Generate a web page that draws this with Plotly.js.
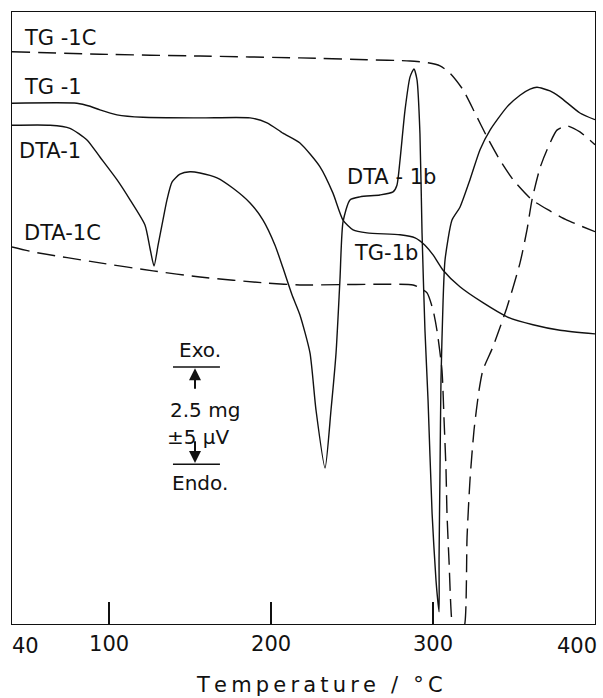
<!DOCTYPE html>
<html>
<head>
<meta charset="utf-8">
<script src="https://cdn.plot.ly/plotly-3.0.1.min.js"></script>
<style>html,body{margin:0;padding:0;background:#fff;}#chart{width:603px;height:698px;}</style>
</head>
<body>
<div id="chart"></div>
<script>
// ---- Data (temperature in °C, signal in arbitrary chart units 0-100) ----
const tg1cT = [40, 94.3, 156.1, 217.8, 259.2, 285.8, 296.9, 304.3, 310.5, 318.5, 325.9, 333.3, 341.3, 349.4, 361.1, 372.2, 382.7, 400];
const tg1cV = [93.5, 93.1, 92.8, 92.5, 92.2, 92.0, 91.7, 91.2, 90.0, 87.3, 83.5, 79.6, 75.8, 72.6, 69.3, 67.5, 66.0, 64.1];

const tg1T = [40, 80.1, 88.2, 94.3, 104.8, 120.9, 156.1, 187.0, 197.5, 207.3, 217.8, 230.2, 238.2, 244.4, 250.6, 259.2, 279.6, 288.9, 295.0, 300.0, 306.2, 316.6, 330.8, 345.7, 361.7, 378.4, 400];
const tg1V = [85.1, 85.1, 84.6, 84.0, 83.2, 82.8, 82.7, 82.7, 81.9, 80.2, 78.6, 74.7, 70.4, 66.0, 64.4, 63.9, 63.6, 63.1, 61.9, 60.3, 57.8, 55.1, 52.5, 50.2, 48.9, 48.0, 47.4];

const dta1T = [40, 63.5, 75.8, 86.3, 94.3, 104.8, 112.9, 122.1, 125.2, 127.7, 130.2, 133.2, 135.7, 138.8, 143.7, 149.9, 156.1, 166.6, 176.5, 187.0, 195.0, 202.4, 207.3, 212.9, 217.8, 224.0, 227.7, 233.3, 237.0, 240.1, 242.5, 244.4, 248.7, 254.9, 267.2, 275.3, 277.7, 279.6, 282.7, 285.8, 288.2, 290.1, 291.9, 293.2, 295.0, 296.9, 299.4, 301.8, 303.7, 303.7, 304.3, 304.9, 306.2, 307.4, 311.7, 316.6, 322.8, 329.0, 335.2, 345.7, 353.7, 359.9, 364.2, 372.2, 378.4, 390.7, 400];
const dta1V = [81.5, 81.5, 81.0, 79.1, 76.3, 72.6, 69.3, 65.2, 61.4, 58.5, 61.9, 66.0, 69.3, 72.2, 73.5, 73.9, 73.7, 72.9, 71.2, 68.8, 66.0, 61.9, 58.2, 53.8, 50.5, 44.3, 35.0, 25.5, 35.0, 44.3, 56.2, 65.7, 69.3, 69.8, 70.1, 70.6, 71.7, 75.8, 84.0, 89.4, 90.7, 88.9, 80.2, 63.9, 48.0, 36.6, 18.1, 7.2, 2.0, 10.5, 25.2, 39.9, 52.9, 59.5, 66.0, 68.1, 72.6, 77.5, 80.7, 84.5, 86.4, 87.4, 87.7, 87.1, 86.1, 83.5, 82.4];

const dta1cT = [40, 53.0, 94.3, 127.1, 156.1, 197.5, 217.8, 287.6, 291.9, 296.3, 300.0, 302.4, 305.5, 306.8, 308.0, 308.6, 309.9, 311.7, 315.4, 319.7, 321.0, 322.8, 325.3, 328.4, 330.8, 337.0, 345.7, 353.7, 358.0, 361.1, 366.0, 370.4, 376.5, 382.7, 390.7, 400];
const dta1cV = [61.6, 60.8, 59.0, 57.7, 56.7, 55.7, 55.4, 55.4, 54.9, 54.1, 51.3, 48.0, 41.5, 33.3, 25.2, 18.1, 10.0, 0.2, -4.2, 0.2, 14.2, 23.5, 31.7, 38.2, 41.5, 45.3, 51.8, 59.0, 64.4, 69.3, 74.5, 77.5, 80.7, 81.4, 80.4, 78.3];

// curve labels
const labelText = ["TG -1C", "TG -1", "DTA-1", "DTA-1C", "DTA - 1b", "TG-1b"];
const labelT = [46.2, 46.2, 43.1, 46.2, 245.6, 250.0];
const labelV = [95.8, 87.7, 77.3, 63.9, 73.0, 60.6];

// scale-bar legend
const scaleText = ["Exo.", "2.5 mg", "±5 μV", "Endo."];
const scaleT = [156.1, 159.2, 154.9, 156.1];
const scaleV = [44.8, 35.0, 30.6, 23.0];

// x axis ticks
const tickVals = [100, 200, 300];
const tickText = ["100", "200", "300"];
const edgeTickVals = [40, 400];
const edgeTickText = ["40", "400"];
const xTitle = "Temperature / °C";

const FONT = "DejaVu Sans, sans-serif";
const solid = {color: "#111", width: 1.4, shape: "spline", smoothing: 0.6};
const dashed = {color: "#111", width: 1.4, shape: "spline", smoothing: 0.6, dash: "18px,8px"};

const traces = [
  {x: tg1cT, y: tg1cV, mode: "lines", line: dashed, name: "TG-1C"},
  {x: tg1T, y: tg1V, mode: "lines", line: solid, name: "TG-1"},
  {x: dta1T, y: dta1V, mode: "lines", line: solid, name: "DTA-1"},
  {x: dta1cT, y: dta1cV, mode: "lines", line: dashed, name: "DTA-1C"}
];

const annotations = [];
labelText.forEach((t, i) => annotations.push({
  x: labelT[i], y: labelV[i], xref: "x", yref: "y", text: t, showarrow: false,
  xanchor: "left", yanchor: "middle", font: {family: FONT, size: 21, color: "#111"}
}));
scaleText.forEach((t, i) => annotations.push({
  x: scaleT[i], y: scaleV[i], xref: "x", yref: "y", text: t, showarrow: false,
  xanchor: "center", yanchor: "middle", font: {family: FONT, size: 20, color: "#111"}
}));
// arrows of the scale bar
annotations.push({x: 153.0, y: 41.8, ax: 153.0, ay: 38.2, xref: "x", yref: "y", axref: "x", ayref: "y",
  text: "", showarrow: true, arrowhead: 2, arrowsize: 1.2, arrowwidth: 2, arrowcolor: "#111"});
annotations.push({x: 153.0, y: 26.3, ax: 153.0, ay: 30.1, xref: "x", yref: "y", axref: "x", ayref: "y",
  text: "", showarrow: true, arrowhead: 2, arrowsize: 1.2, arrowwidth: 2, arrowcolor: "#111"});
// edge tick labels
edgeTickText.forEach((t, i) => annotations.push({
  x: edgeTickVals[i], y: 0, xref: "x", yref: "paper", text: t, showarrow: false,
  xanchor: i === 0 ? "left" : "right", yanchor: "top", yshift: -8, xshift: i === 0 ? -2 : 4,
  font: {family: FONT, size: 21, color: "#111"}
}));
// axis title (letter-spaced like the original lettering)
annotations.push({
  x: 0.528, y: 0, xref: "paper", yref: "paper", yanchor: "middle", xanchor: "center", yshift: -61,
  text: xTitle.split("").join("\u2009"), showarrow: false,
  font: {family: FONT, size: 21, color: "#111"}
});

const shapes = [
  {type: "line", xref: "x", yref: "y", x0: 139.4, x1: 168.4, y0: 42.0, y1: 42.0, line: {color: "#111", width: 1.4}},
  {type: "line", xref: "x", yref: "y", x0: 139.4, x1: 168.4, y0: 26.1, y1: 26.1, line: {color: "#111", width: 1.4}}
];

const layout = {
  width: 603, height: 698,
  margin: {l: 12, r: 8, t: 12, b: 74},
  paper_bgcolor: "#fff", plot_bgcolor: "#fff",
  showlegend: false,
  font: {family: FONT, color: "#111"},
  xaxis: {
    range: [40, 400], tickvals: tickVals, ticktext: tickText,
    ticks: "inside", ticklen: 22, tickwidth: 1.4, tickcolor: "#111",
    showline: true, mirror: true, linecolor: "#111", linewidth: 1.4,
    showgrid: false, zeroline: false,
    tickfont: {family: FONT, size: 21, color: "#111"}
  },
  yaxis: {
    range: [0, 100], showticklabels: false, ticks: "",
    showline: true, mirror: true, linecolor: "#111", linewidth: 1.4,
    showgrid: false, zeroline: false
  },
  annotations: annotations,
  shapes: shapes
};

Plotly.newPlot("chart", traces, layout, {displayModeBar: false, staticPlot: true});
</script>
</body>
</html>
